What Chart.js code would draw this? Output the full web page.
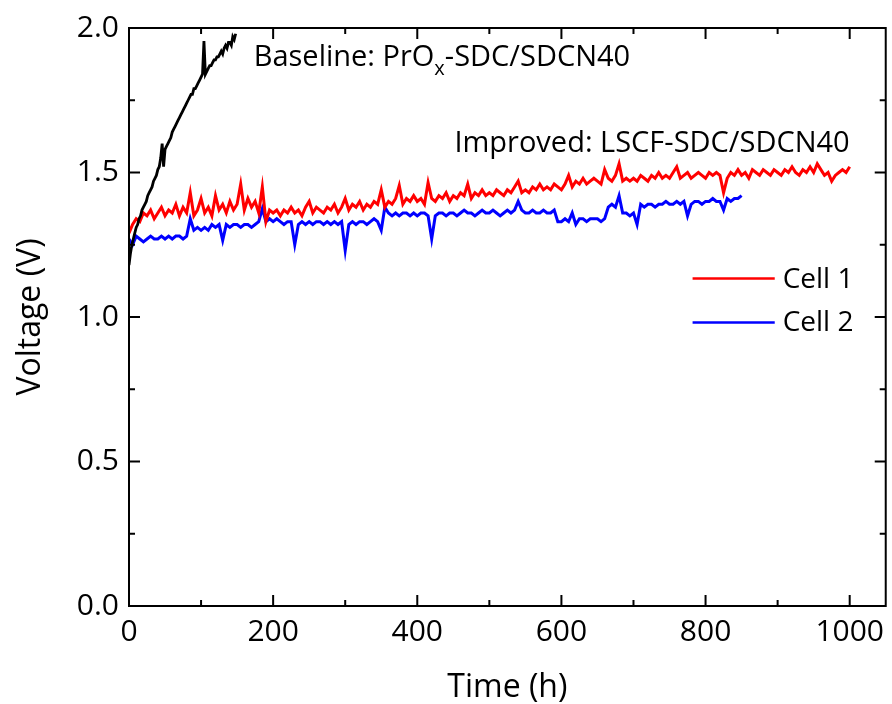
<!DOCTYPE html>
<html>
<head>
<meta charset="utf-8">
<script src="https://cdn.jsdelivr.net/npm/chart.js@4/dist/chart.umd.min.js"></script>
<style>
  body { margin: 0; background: #fff; }
  #wrap { width: 892px; height: 704px; }
</style>
</head>
<body>
<div id="wrap"><canvas id="c"></canvas></div>
<script>
// baseline cell, sampled every 2 h
const baseStep = 2;
const baseVolts = [
  1.18, 1.22, 1.25, 1.27, 1.29, 1.31, 1.32, 1.34, 1.35, 1.37,
  1.38, 1.39, 1.40, 1.42, 1.43, 1.44, 1.45, 1.47, 1.48, 1.49,
  1.51, 1.52, 1.55, 1.60, 1.52, 1.58, 1.59, 1.60, 1.61, 1.62,
  1.64, 1.65, 1.66, 1.67, 1.68, 1.69, 1.70, 1.71, 1.72, 1.73,
  1.74, 1.75, 1.76, 1.77, 1.77, 1.79, 1.79, 1.80, 1.81, 1.82,
  1.83, 1.84, 1.955, 1.84, 1.85, 1.86, 1.87, 1.87, 1.88, 1.89,
  1.89, 1.90, 1.90, 1.91, 1.92, 1.91, 1.93, 1.94, 1.93, 1.95,
  1.95, 1.94, 1.97, 1.96, 1.98
];

// improved cells, sampled every 5 h
const cellStep = 5;
const cell1Volts = [
  1.29, 1.32, 1.34, 1.33, 1.36, 1.35, 1.37, 1.34, 1.36, 1.38,
  1.35, 1.37, 1.36, 1.39, 1.35, 1.38, 1.36, 1.43, 1.35, 1.37,
  1.41, 1.36, 1.38, 1.35, 1.42, 1.37, 1.39, 1.36, 1.40, 1.37,
  1.39, 1.46, 1.37, 1.41, 1.38, 1.40, 1.36, 1.45, 1.33, 1.37,
  1.36, 1.37, 1.35, 1.37, 1.36, 1.38, 1.36, 1.37, 1.35, 1.38,
  1.40, 1.36, 1.38, 1.37, 1.36, 1.38, 1.37, 1.39, 1.36, 1.38,
  1.41, 1.37, 1.39, 1.38, 1.40, 1.37, 1.39, 1.38, 1.40, 1.39,
  1.44, 1.38, 1.40, 1.39, 1.41, 1.455, 1.39, 1.41, 1.40, 1.42,
  1.40, 1.41, 1.39, 1.465, 1.41, 1.40, 1.42, 1.41, 1.43, 1.40,
  1.42, 1.41, 1.43, 1.42, 1.46, 1.41, 1.43, 1.42, 1.44, 1.42,
  1.43, 1.42, 1.44, 1.43, 1.42, 1.44, 1.43, 1.45, 1.47, 1.43,
  1.44, 1.43, 1.45, 1.44, 1.46, 1.44, 1.45, 1.44, 1.46, 1.45,
  1.44, 1.46, 1.49, 1.45, 1.47, 1.46, 1.48, 1.46, 1.47, 1.48,
  1.47, 1.46, 1.51, 1.48, 1.47, 1.49, 1.53, 1.47, 1.48, 1.47,
  1.48, 1.47, 1.49, 1.48, 1.47, 1.49, 1.48, 1.50, 1.48, 1.49,
  1.48, 1.50, 1.52, 1.48, 1.49, 1.50, 1.48, 1.49, 1.50, 1.49,
  1.48, 1.50, 1.49, 1.50, 1.49, 1.43, 1.48, 1.50, 1.49, 1.51,
  1.49, 1.50, 1.48, 1.51, 1.50, 1.49, 1.51, 1.50, 1.49, 1.51,
  1.50, 1.49, 1.51, 1.50, 1.52, 1.50, 1.49, 1.51, 1.50, 1.52,
  1.50, 1.53, 1.51, 1.49, 1.50, 1.47, 1.49, 1.50, 1.51, 1.50,
  1.52
];
const cell2Volts = [
  1.27, 1.25, 1.28, 1.27, 1.26, 1.27, 1.28, 1.27, 1.27, 1.28,
  1.27, 1.28, 1.27, 1.28, 1.28, 1.27, 1.28, 1.34, 1.30, 1.31,
  1.30, 1.31, 1.30, 1.32, 1.31, 1.32, 1.265, 1.32, 1.31, 1.32,
  1.32, 1.31, 1.32, 1.32, 1.31, 1.32, 1.33, 1.375, 1.33, 1.34,
  1.33, 1.34, 1.33, 1.32, 1.33, 1.33, 1.25, 1.32, 1.33, 1.32,
  1.33, 1.32, 1.33, 1.33, 1.32, 1.33, 1.32, 1.33, 1.32, 1.33,
  1.23, 1.32, 1.33, 1.32, 1.33, 1.33, 1.32, 1.33, 1.34, 1.33,
  1.30, 1.38, 1.36, 1.35, 1.36, 1.35, 1.36, 1.36, 1.35, 1.36,
  1.35, 1.36, 1.36, 1.35, 1.27, 1.35, 1.36, 1.36, 1.35, 1.36,
  1.36, 1.35, 1.36, 1.37, 1.36, 1.36, 1.35, 1.36, 1.37, 1.36,
  1.36, 1.37, 1.36, 1.35, 1.36, 1.37, 1.36, 1.37, 1.40, 1.37,
  1.36, 1.36, 1.37, 1.36, 1.36, 1.37, 1.36, 1.36, 1.37, 1.33,
  1.33, 1.34, 1.33, 1.36, 1.32, 1.34, 1.34, 1.33, 1.34, 1.34,
  1.34, 1.33, 1.34, 1.38, 1.39, 1.38, 1.42, 1.36, 1.36, 1.35,
  1.36, 1.32, 1.39, 1.38, 1.39, 1.39, 1.38, 1.39, 1.39, 1.40,
  1.39, 1.39, 1.40, 1.39, 1.40, 1.35, 1.39, 1.40, 1.40, 1.39,
  1.40, 1.40, 1.41, 1.40, 1.40, 1.37, 1.41, 1.40, 1.41, 1.41,
  1.42
];

const xTicks = [0, 200, 400, 600, 800, 1000];
const yTicks = [0.0, 0.5, 1.0, 1.5, 2.0];

const FONT = "'Open Sans', sans-serif";

function toPoints(vals, step) {
  return vals.map((v, i) => ({ x: i * step, y: v }));
}

// inward ticks on all four sides, plus the box
const framePlugin = {
  id: 'frame',
  afterDatasetsDraw(chart) {
    const { ctx, chartArea: a, scales: { x, y } } = chart;
    ctx.save();
    ctx.strokeStyle = '#000';
    ctx.lineWidth = 2;
    ctx.beginPath();
    x.ticks.forEach(t => {
      const p = x.getPixelForValue(t.value);
      const len = xTicks.includes(t.value) ? 11 : 6;
      ctx.moveTo(p, a.bottom); ctx.lineTo(p, a.bottom - len);
      ctx.moveTo(p, a.top); ctx.lineTo(p, a.top + len);
    });
    y.ticks.forEach(t => {
      const p = y.getPixelForValue(t.value);
      const len = yTicks.some(v => Math.abs(v - t.value) < 1e-6) ? 11 : 6;
      ctx.moveTo(a.left, p); ctx.lineTo(a.left + len, p);
      ctx.moveTo(a.right, p); ctx.lineTo(a.right - len, p);
    });
    ctx.stroke();
    ctx.strokeRect(a.left, a.top, a.width, a.height);
    ctx.restore();
  },
  afterDraw(chart) {
    const { ctx, scales: { x, y } } = chart;
    ctx.save();
    ctx.fillStyle = '#000';
    ctx.textBaseline = 'alphabetic';

    // Baseline label with subscript x
    ctx.font = `29px ${FONT}`;
    ctx.textAlign = 'left';
    let px = x.getPixelForValue(173), py = y.getPixelForValue(1.869);
    const p1 = 'Baseline: PrO';
    ctx.fillText(p1, px, py);
    px += ctx.measureText(p1).width;
    ctx.font = `20px ${FONT}`;
    ctx.fillText('x', px, py + 9);
    px += ctx.measureText('x').width;
    ctx.font = `29px ${FONT}`;
    ctx.fillText('-SDC/SDCN40', px, py);

    ctx.textAlign = 'right';
    ctx.fillText('Improved: LSCF-SDC/SDCN40', x.getPixelForValue(1000), y.getPixelForValue(1.572));

    // legend for the two cells
    const rows = [[1, 1.133], [2, 0.981]];
    ctx.font = `28px ${FONT}`;
    ctx.textAlign = 'left';
    ctx.textBaseline = 'middle';
    rows.forEach(([di, v]) => {
      const ds = chart.data.datasets[di];
      const ly = y.getPixelForValue(v);
      ctx.strokeStyle = ds.borderColor;
      ctx.lineWidth = 2.5;
      ctx.beginPath();
      ctx.moveTo(x.getPixelForValue(782), ly);
      ctx.lineTo(x.getPixelForValue(896), ly);
      ctx.stroke();
      ctx.fillText(ds.label, x.getPixelForValue(907), ly + 1);
    });
    ctx.restore();
  }
};

new Chart(document.getElementById('c'), {
  type: 'line',
  data: {
    datasets: [
      { label: 'Baseline', data: toPoints(baseVolts, baseStep), borderColor: '#000000', borderWidth: 2.8 },
      { label: 'Cell 1', data: toPoints(cell1Volts, cellStep), borderColor: '#ff0000' },
      { label: 'Cell 2', data: toPoints(cell2Volts, cellStep), borderColor: '#0000ff' }
    ]
  },
  options: {
    responsive: true,
    maintainAspectRatio: false,
    animation: false,
    devicePixelRatio: 1,
    layout: { padding: { top: 27, right: 0, left: 0, bottom: 0 } },
    elements: {
      point: { radius: 0 },
      line: { borderWidth: 3, tension: 0 }
    },
    plugins: { legend: { display: false }, tooltip: { enabled: false } },
    scales: {
      x: {
        type: 'linear',
        min: 0, max: 1050,
        grid: { display: false, drawTicks: false },
        border: { display: false },
        ticks: {
          stepSize: 100,
          includeBounds: false,
          autoSkip: false,
          maxRotation: 0,
          padding: 8,
          color: '#000',
          font: { family: FONT, size: 30 },
          callback: v => (xTicks.includes(v) ? String(v) : '')
        },
        title: { display: true, text: 'Time (h)', color: '#000', font: { family: FONT, size: 32, lineHeight: 1.0 }, padding: { top: 0, bottom: 0 } },
        afterFit(s) { s.height = 98; }
      },
      y: {
        min: 0, max: 2,
        grid: { display: false, drawTicks: false },
        border: { display: false },
        ticks: {
          stepSize: 0.25,
          autoSkip: false,
          padding: 10,
          color: '#000',
          font: { family: FONT, size: 30 },
          callback: v => (yTicks.some(t => Math.abs(t - v) < 1e-6) ? v.toFixed(1) : '')
        },
        title: { display: true, text: 'Voltage (V)', color: '#000', font: { family: FONT, size: 32 }, padding: { top: 12, bottom: 0 } },
        afterFit(s) { s.width = 129; }
      }
    }
  },
  plugins: [framePlugin]
});
</script>
</body>
</html>
